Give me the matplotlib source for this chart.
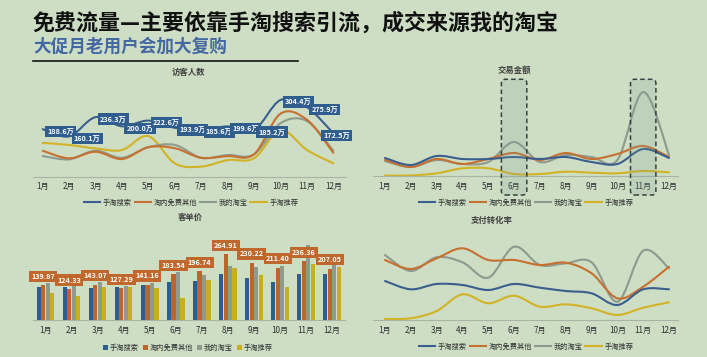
import numpy as np
import matplotlib.pyplot as plt
from matplotlib.path import Path
from matplotlib.patches import PathPatch, FancyBboxPatch, Patch
from matplotlib.lines import Line2D
from matplotlib.transforms import IdentityTransform

plt.rcParams['font.family'] = ['Noto Sans CJK SC', 'DejaVu Sans']

months = [f'{i}月' for i in range(1, 13)]
series_names = ['手淘搜索', '淘内免费其他', '我的淘宝', '手淘推荐']

# 访客人数 (万)
visit_search = [188.6, 160.1, 236.3, 200.0, 222.6, 193.9, 185.6, 199.6, 185.2, 304.4, 275.9, 172.5]
visit_other = [103, 73, 99, 70, 117, 113, 75, 82, 89, 250, 226, 95]
visit_mytb = [82, 69, 103, 75, 117, 126, 75, 86, 89, 212, 221, 103]
visit_rec = [134, 126, 112, 106, 161, 53, 40, 66, 73, 185, 106, 53]

# 交易金额
trade_search = [18, 11, 20, 17, 17, 19, 17, 19, 14, 12, 27, 18]
trade_other = [16, 9, 17, 12, 17, 23, 16, 23, 17, 22, 30, 19]
trade_mytb = [15, 9, 16, 12, 14, 34, 14, 21, 19, 16, 84, 21]
trade_rec = [0.5, 0.5, 2.7, 7.7, 7.7, 2.0, 2.0, 4.3, 3.3, 2.7, 5.0, 3.7]
highlight_months = [5, 10]

# 客单价
price_search = [134, 134, 130, 134, 141, 154, 157, 185, 170, 154, 184, 185]
price_other = [139.87, 124.33, 143.07, 127.29, 141.16, 183.54, 196.74, 264.91, 230.22, 211.40, 236.36, 207.05]
price_mytb = [148, 138, 152, 138, 148, 195, 181, 218, 215, 218, 302, 222]
price_rec = [108, 98, 132, 134, 128, 90, 161, 211, 181, 134, 225, 215]

# 支付转化率 (%)
conv_search = [3.9, 3.07, 3.6, 3.5, 3.0, 3.6, 3.23, 2.9, 2.67, 1.5, 3.07, 3.07]
conv_other = [6.0, 5.1, 6.17, 7.17, 6.0, 6.0, 5.5, 5.73, 4.67, 2.17, 3.33, 5.33]
conv_mytb = [6.5, 4.9, 6.27, 5.77, 4.23, 7.33, 5.5, 5.67, 5.77, 1.83, 6.93, 5.17]
conv_rec = [0.1, 0.17, 0.9, 2.57, 1.67, 2.43, 1.33, 1.57, 1.17, 0.5, 1.23, 1.77]

W, H = 707, 357
BG = '#cddec4'
LINE_COLORS = ['#3a5f8f', '#c8702f', '#8d9a8e', '#d2b226']
BAR_COLORS = ['#2f5d8c', '#c0652a', '#8d9a8e', '#c9ad22']
BLUE_TAG = '#2f5d8e'
ORANGE_TAG = '#c0672b'

fig = plt.figure(figsize=(W / 100, H / 100), dpi=100, facecolor=BG)


def rect(l, t, r, b):
    return [l / W, 1 - b / H, (r - l) / W, (b - t) / H]


def make_axes(l, t, r, b, x0, dx, ymax):
    ax = fig.add_axes(rect(l, t, r, b))
    ax.set_facecolor('none')
    ax.set_xlim((l - x0) / dx, (r - x0) / dx)
    ax.set_ylim(0, ymax)
    for s in ['top', 'right', 'left']:
        ax.spines[s].set_visible(False)
    ax.spines['bottom'].set_color('#a9b4a6')
    ax.spines['bottom'].set_linewidth(0.8)
    ax.set_xticks(range(12))
    ax.set_xticklabels(months, fontsize=5.8, color='#2e2e2e')
    ax.tick_params(length=0, pad=4)
    ax.set_yticks([])
    return ax


def smooth(ax, ys, color, lw=1.5):
    pts = np.column_stack([np.arange(len(ys)), ys]).astype(float)
    ext = np.vstack([pts[0], pts, pts[-1]])
    verts = [pts[0]]
    codes = [Path.MOVETO]
    for i in range(len(pts) - 1):
        p0, p1, p2, p3 = ext[i], ext[i + 1], ext[i + 2], ext[i + 3]
        verts += [p1 + (p2 - p0) / 6, p2 - (p3 - p1) / 6, p2]
        codes += [Path.CURVE4] * 3
    ax.add_patch(PathPatch(Path(verts, codes), fill=False, ec=color, lw=lw,
                           capstyle='round', joinstyle='round'))


def legend(ax, cx, cy, bars=False):
    if bars:
        handles = [Patch(fc=c, ec='none') for c in BAR_COLORS]
        kw = dict(handlelength=0.7, handleheight=0.7, handletextpad=0.2, columnspacing=0.6)
    else:
        handles = [Line2D([], [], color=c, lw=1.5) for c in LINE_COLORS]
        kw = dict(handlelength=2.3, handletextpad=0.3, columnspacing=0.4)
    leg = ax.legend(handles, series_names, loc='center', ncol=4, frameon=False,
                    fontsize=5.2, bbox_to_anchor=(cx / W, 1 - cy / H),
                    bbox_transform=fig.transFigure, borderaxespad=0, **kw)
    for t in leg.get_texts():
        t.set_color('#333333')


# headings
fig.text(33 / W, 1 - 23 / H, '免费流量—主要依靠手淘搜索引流，成交来源我的淘宝',
         fontsize=15.8, fontweight='bold', color='#111111', va='center', ha='left')
fig.text(33 / W, 1 - 47 / H, '大促月老用户会加大复购',
         fontsize=12.7, fontweight='bold', color='#4468a2', va='center', ha='left')
fig.add_artist(Line2D([33 / W, 298 / W], [1 - 60.7 / H] * 2, color='#111111', lw=1.2))

title_kw = dict(fontsize=6, fontweight='bold', color='#404040', va='center', ha='center')

# 访客人数
ax1 = make_axes(32.7, 80, 345, 176.7, 42.7, 26.42, 96.7 / 0.252)
for ys, c in zip([visit_rec, visit_mytb, visit_other, visit_search], LINE_COLORS[::-1]):
    smooth(ax1, ys, c)
for i, v in enumerate(visit_search):
    dx = 3 if i == len(visit_search) - 1 else 18
    ax1.annotate(f'{v:.1f}万', (i, v), xytext=(dx, -2), textcoords='offset pixels',
                 ha='center', va='center', fontsize=5.2, fontweight='bold', color='white',
                 bbox=dict(boxstyle='square,pad=0.3', fc=BLUE_TAG, ec='none'))
fig.text(188 / W, 1 - 72.7 / H, '访客人数', **title_kw)
legend(ax1, 191, 203)

# 交易金额
ax2 = make_axes(373, 80, 678, 176, 385, 25.82, 96)
for ys, c in zip([trade_rec, trade_mytb, trade_other, trade_search], LINE_COLORS[::-1]):
    smooth(ax2, ys, c)
fig.text(514 / W, 1 - 70 / H, '交易金额', **title_kw)
legend(ax2, 526, 203)
for m in highlight_months:
    cx = ax2.transData.transform((m, 0))[0]
    box = FancyBboxPatch((cx - 12.7, H - 195), 25.4, 115.7,
                         boxstyle='round,pad=0,rounding_size=4',
                         fc=(0.50, 0.62, 0.60, 0.2), ec='#34423f', lw=1.1,
                         linestyle=(0, (3, 2)), transform=IdentityTransform(), zorder=10)
    fig.add_artist(box)

# 客单价
ax3 = make_axes(32.7, 225, 345, 320, 45.5, 26.05, 95 / 0.248)
bw, step = 0.16, 0.172
x = np.arange(12)
for k, (vals, c) in enumerate(zip([price_search, price_other, price_mytb, price_rec], BAR_COLORS)):
    ax3.bar(x + (k - 1.5) * step, vals, width=bw, color=c, zorder=2)
for i, v in enumerate(price_other):
    ax3.annotate(f'{v:.2f}', (i - 0.5 * step, v), xytext=(0, 9), textcoords='offset pixels',
                 ha='center', va='center', fontsize=5.2, fontweight='bold', color='white',
                 bbox=dict(boxstyle='square,pad=0.3', fc=ORANGE_TAG, ec='none'), zorder=5)
fig.text(190.7 / W, 1 - 217.7 / H, '客单价', **title_kw)
legend(ax3, 188, 347.7, bars=True)

# 支付转化率
ax4 = make_axes(373, 225, 678, 320, 385, 25.82, 9.5)
for ys, c in zip([conv_rec, conv_mytb, conv_other, conv_search], LINE_COLORS[::-1]):
    smooth(ax4, ys, c)
fig.text(491.7 / W, 1 - 220 / H, '支付转化率', **title_kw)
legend(ax4, 526, 346.7)

fig.savefig('out.png', dpi=100, facecolor=BG)
